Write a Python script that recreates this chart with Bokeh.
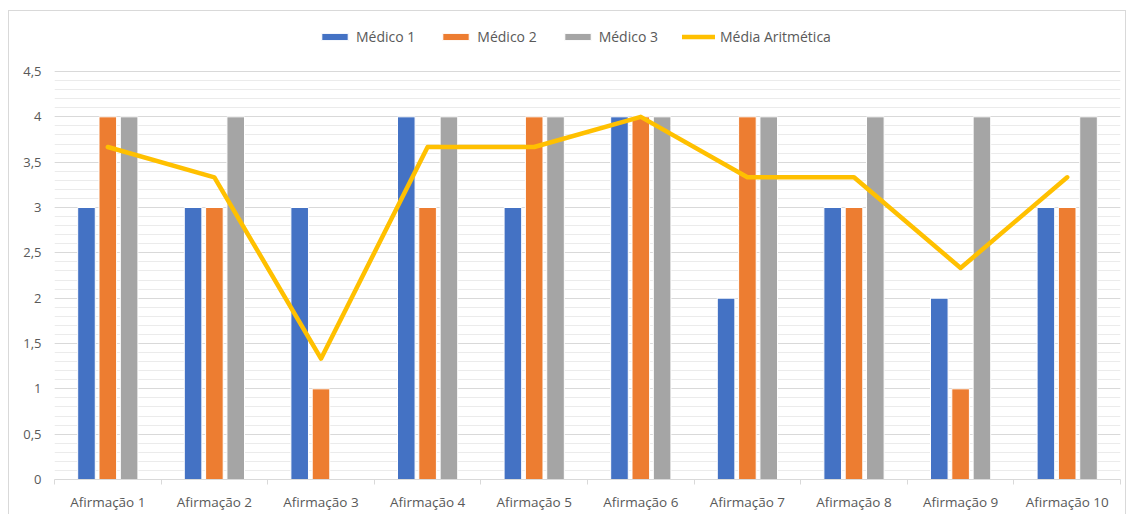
from bokeh.plotting import figure
from bokeh.models import (ColumnDataSource, FixedTicker, Legend, LegendItem, Range1d)
from bokeh.transform import dodge
from bokeh.embed import file_html
from bokeh.resources import INLINE

categories = ["Afirmação 1", "Afirmação 2", "Afirmação 3", "Afirmação 4", "Afirmação 5",
              "Afirmação 6", "Afirmação 7", "Afirmação 8", "Afirmação 9", "Afirmação 10"]
medico1 = [3, 3, 3, 4, 3, 4, 2, 3, 2, 3]
medico2 = [4, 3, 1, 3, 4, 4, 4, 3, 1, 3]
medico3 = [4, 4, 0, 4, 4, 4, 4, 4, 4, 4]
media = [3.667, 3.333, 1.333, 3.667, 3.667, 4.0, 3.333, 3.333, 2.333, 3.333]
y_ticks = [0, 0.5, 1, 1.5, 2, 2.5, 3, 3.5, 4, 4.5]
y_tick_labels = ["0", "0,5", "1", "1,5", "2", "2,5", "3", "3,5", "4", "4,5"]
series_names = ["Médico 1", "Médico 2", "Médico 3", "Média Aritmética"]

FONT = "Open Sans"
TXT = "#595959"

# frame spans from y=20 to y=479 px; value axis 0..4.5 spans 408 px
FRAME_TOP, FRAME_BOTTOM, AXIS_TOP = 20, 479, 71
y_end = 4.5 * (FRAME_BOTTOM - FRAME_TOP) / (FRAME_BOTTOM - AXIS_TOP)

centers = [i + 0.5 for i in range(len(categories))]
src = ColumnDataSource(dict(x=centers, m1=medico1, m2=medico2, m3=medico3, media=media))

p = figure(width=1131, height=514, output_backend="svg", toolbar_location=None,
           x_range=Range1d(0, len(categories)), y_range=Range1d(0, y_end),
           min_border_left=54, min_border_right=11, min_border_top=FRAME_TOP,
           min_border_bottom=514 - FRAME_BOTTOM)
p.outline_line_color = None
p.background_fill_color = "white"
p.border_fill_color = "white"
p.stylesheets = [":host { position: relative; } :host::after { content: ''; position: absolute; "
                 "left: 8px; top: 10px; width: 1118px; height: 540px; border: 1px solid #D9D9D9; "
                 "pointer-events: none; box-sizing: border-box; }"]

minor = [round(i * 0.1, 2) for i in range(46)]
w = 0.165
r1 = p.vbar(x=dodge("x", -0.2), top="m1", width=w, source=src, fill_color="#4472C4", line_color="white", line_width=1)
r2 = p.vbar(x=dodge("x", 0.0), top="m2", width=w, source=src, fill_color="#ED7D31", line_color="white", line_width=1)
r3 = p.vbar(x=dodge("x", 0.2), top="m3", width=w, source=src, fill_color="#A5A5A5", line_color="white", line_width=1)
r4 = p.line(x="x", y="media", source=src, line_color="#FFC000", line_width=4.5, line_join="round", line_cap="round")

# y axis
yt = FixedTicker(ticks=y_ticks, minor_ticks=minor)
p.yaxis.ticker = yt
p.yaxis.major_label_overrides = {t: l for t, l in zip(y_ticks, y_tick_labels)}
p.yaxis.axis_line_color = None
p.yaxis.major_tick_line_color = None
p.yaxis.major_tick_out = 0
p.yaxis.minor_tick_line_color = None
p.yaxis.minor_tick_out = 0
p.yaxis.major_label_text_font = FONT
p.yaxis.major_label_text_font_size = "13px"
p.yaxis.major_label_text_color = TXT
p.yaxis.major_label_standoff = 13

p.ygrid.ticker = yt
p.ygrid.grid_line_color = "#D9D9D9"
p.ygrid.minor_grid_line_color = "#EBEBEB"
p.xgrid.grid_line_color = None

# x axis
p.xaxis.ticker = FixedTicker(ticks=centers, minor_ticks=list(range(len(categories) + 1)))
p.xaxis.major_label_overrides = {c: l for c, l in zip(centers, categories)}
p.xaxis.axis_line_color = "#D9D9D9"
p.xaxis.major_tick_line_color = None
p.xaxis.major_tick_out = 0
p.xaxis.minor_tick_line_color = "#D9D9D9"
p.xaxis.minor_tick_out = 5
p.xaxis.minor_tick_in = 0
p.xaxis.major_label_text_font = FONT
p.xaxis.major_label_text_font_size = "13.5px"
p.xaxis.major_label_text_color = TXT
p.xaxis.major_label_standoff = 8

legend = Legend(items=[LegendItem(label=series_names[0], renderers=[r1]),
                       LegendItem(label=series_names[1], renderers=[r2]),
                       LegendItem(label=series_names[2], renderers=[r3]),
                       LegendItem(label=series_names[3], renderers=[r4])],
                orientation="horizontal", location=(264, FRAME_BOTTOM - 46),
                glyph_width=33, glyph_height=9, label_standoff=5, spacing=24,
                padding=0, margin=0, border_line_color=None, background_fill_alpha=0,
                label_text_font=FONT, label_text_font_size="14px", label_text_color=TXT,
                label_height=18)
p.add_layout(legend, "center")

open("out.html", "w").write(file_html(p, INLINE))
